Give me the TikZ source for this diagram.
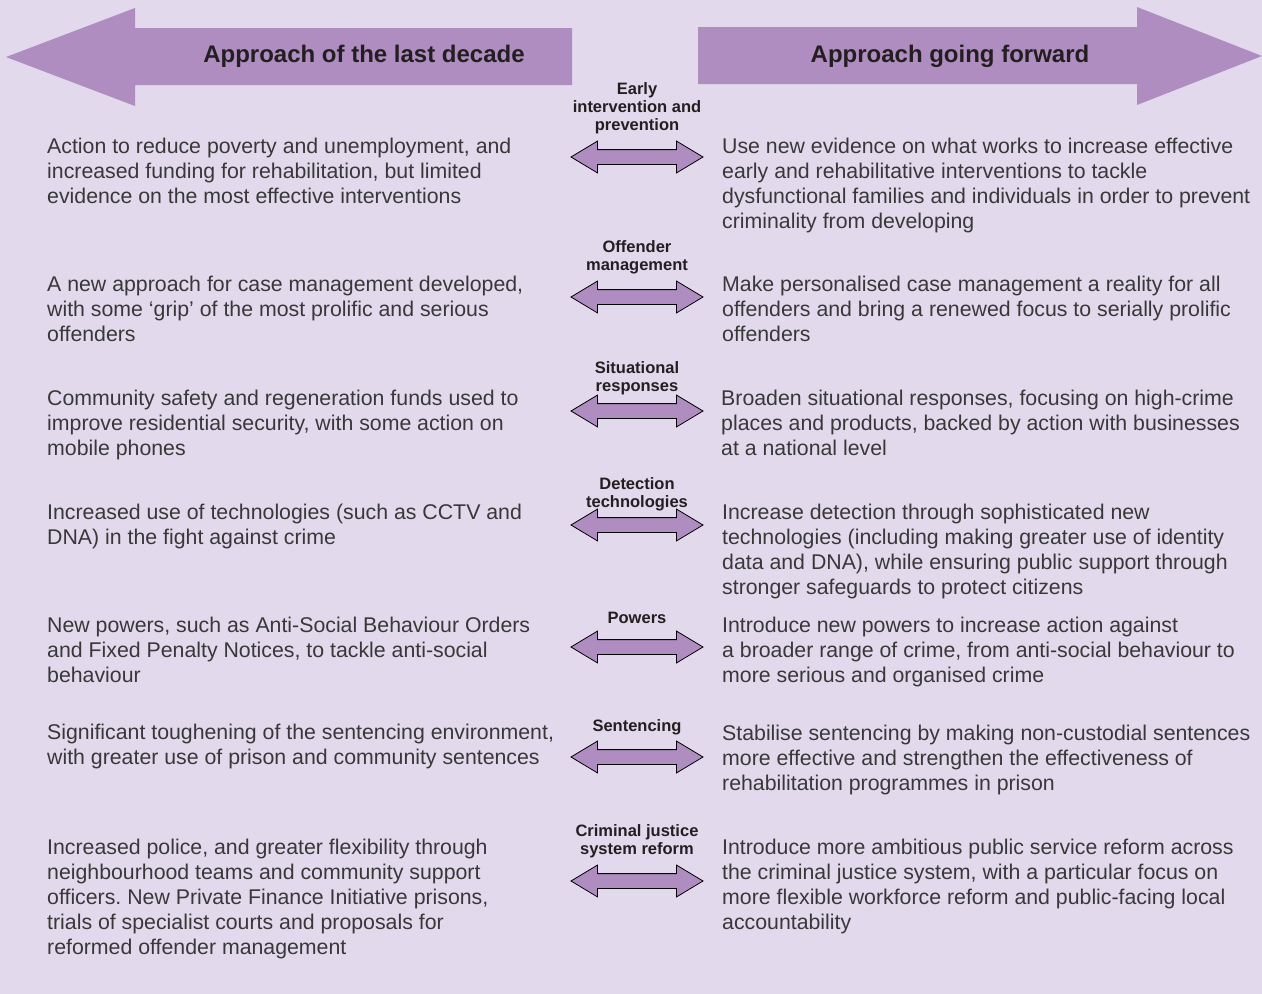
\documentclass[tikz,border=0pt]{standalone}
\usepackage{fontspec}
\setmainfont{Liberation Sans}
\usetikzlibrary{shapes.arrows}
\frenchspacing

\definecolor{bgpurple}{HTML}{E2D9EC}
\definecolor{arrowpurple}{HTML}{AF8DC1}
\definecolor{bodytext}{HTML}{383838}
\definecolor{headtext}{HTML}{231F20}

\tikzset{
  bigarrow/.style={fill=arrowpurple},
  headline/.style={font=\bfseries\fontsize{24}{28}\selectfont, text=headtext, inner sep=0pt},
  body/.style={font=\fontsize{21.3}{25}\selectfont, text=bodytext, align=left, anchor=north west, inner sep=0pt},
  theme/.style={font=\bfseries\fontsize{16.5}{18}\selectfont, text=headtext, align=center, anchor=north, inner sep=0pt},
  dblarrow/.style={double arrow, draw=black, line width=0.8pt, fill=arrowpurple,
    minimum height=132pt, inner xsep=0pt, inner ysep=7pt,
    double arrow head extend=8.5pt, double arrow tip angle=62}
}

\begin{document}
\begin{tikzpicture}[x=1pt,y=-1pt]
    \fill[bgpurple] (0,0) rectangle (1262,994);
    \useasboundingbox (0,0) rectangle (1262,994);

    % the two big arrows at the top
    \fill[bigarrow] (572,28) -- (135,28) -- (135,8) -- (6,57) -- (135,106) -- (135,85) -- (572,85) -- cycle;
    \fill[bigarrow] (698,27) -- (1137,27) -- (1137,7) -- (1262,56) -- (1137,105) -- (1137,84) -- (698,84) -- cycle;
    \node[headline] (past) at (364,56) {Approach of the last decade};
    \node[headline] (future) at (950,56) {Approach going forward};

    % themes in the middle
    \node[theme] (m1) at (637,82) {Early\\intervention and\\prevention};
    \node[dblarrow] (a1) at (637,157) {};
    \node[theme] (m2) at (637,240) {Offender\\management};
    \node[dblarrow] (a2) at (637,297) {};
    \node[theme] (m3) at (637,361) {Situational\\responses};
    \node[dblarrow] (a3) at (637,411) {};
    \node[theme] (m4) at (637,477) {Detection\\technologies};
    \node[dblarrow] (a4) at (637,525) {};
    \node[theme] (m5) at (637,612) {Powers};
    \node[dblarrow] (a5) at (637,647) {};
    \node[theme] (m6) at (637,719) {Sentencing};
    \node[dblarrow] (a6) at (637,757) {};
    \node[theme] (m7) at (637,824) {Criminal justice\\system reform};
    \node[dblarrow] (a7) at (637,881) {};

    % last decade
    \node[body] (l1) at (47,137.5) {Action to reduce poverty and unemployment, and\\increased funding for rehabilitation, but limited\\evidence on the most effective interventions};
    \node[body] (l2) at (47,275.5) {A new approach for case management developed,\\with some ‘grip’ of the most prolific and serious\\offenders};
    \node[body] (l3) at (47,389.5) {Community safety and regeneration funds used to\\improve residential security, with some action on\\mobile phones};
    \node[body] (l4) at (47,503.5) {Increased use of technologies (such as CCTV and\\DNA) in the fight against crime};
    \node[body] (l5) at (47,616.5) {New powers, such as Anti-Social Behaviour Orders\\and Fixed Penalty Notices, to tackle anti-social\\behaviour};
    \node[body] (l6) at (47,723.5) {Significant toughening of the sentencing environment,\\with greater use of prison and community sentences};
    \node[body] (l7) at (47,838.5) {Increased police, and greater flexibility through\\neighbourhood teams and community support\\officers. New Private Finance Initiative prisons,\\trials of specialist courts and proposals for\\reformed offender management};

    % going forward
    \node[body] (r1) at (722,137.5) {Use new evidence on what works to increase effective\\early and rehabilitative interventions to tackle\\dysfunctional families and individuals in order to prevent\\criminality from developing};
    \node[body] (r2) at (722,275.5) {Make personalised case management a reality for all\\offenders and bring a renewed focus to serially prolific\\offenders};
    \node[body] (r3) at (721,389.5) {Broaden situational responses, focusing on high-crime\\places and products, backed by action with businesses\\at a national level};
    \node[body] (r4) at (722,503.5) {Increase detection through sophisticated new\\technologies (including making greater use of identity\\data and DNA), while ensuring public support through\\stronger safeguards to protect citizens};
    \node[body] (r5) at (722,616.5) {Introduce new powers to increase action against\\a broader range of crime, from anti-social behaviour to\\more serious and organised crime};
    \node[body] (r6) at (722,724.5) {Stabilise sentencing by making non-custodial sentences\\more effective and strengthen the effectiveness of\\rehabilitation programmes in prison};
    \node[body] (r7) at (722,838.5) {Introduce more ambitious public service reform across\\the criminal justice system, with a particular focus on\\more flexible workforce reform and public-facing local\\accountability};
\end{tikzpicture}
\end{document}
